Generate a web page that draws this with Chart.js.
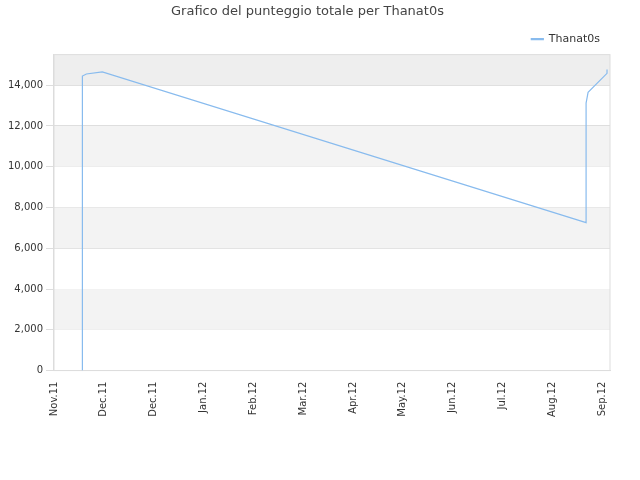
<!DOCTYPE html>
<html>
<head>
<meta charset="utf-8">
<script src="https://cdn.jsdelivr.net/npm/chart.js@4"></script>
<style>
  body { margin: 0; background: #fff; }
</style>
</head>
<body>
<canvas id="chart" width="640" height="480"></canvas>
<script>
const tickLabels = ['Nov.11', 'Dec.11', 'Dec.11', 'Jan.12', 'Feb.12', 'Mar.12', 'Apr.12', 'May.12', 'Jun.12', 'Jul.12', 'Aug.12', 'Sep.12'];
// x in month-tick units (0 = first tick)
const pointX = [0.57, 0.57, 0.65, 0.97, 10.68, 10.68, 10.72, 11.10, 11.10];
const pointY = [0, 14450, 14550, 14650, 7260, 13120, 13650, 14580, 14770];

const bands = {
  id: 'bands',
  beforeDatasetsDraw(chart) {
    const { ctx, chartArea: a, scales: { y } } = chart;
    const gray = [[2000, 4000, '#f3f3f3'], [6000, 8000, '#f3f3f3'], [10000, 12000, '#f3f3f3'], [14000, y.max, '#eeeeee']];
    ctx.save();
    gray.forEach(([lo, hi, c]) => {
      ctx.fillStyle = c;
      const t = y.getPixelForValue(hi), b = y.getPixelForValue(lo);
      ctx.fillRect(a.left, t, a.right - a.left, b - t);
    });
    ctx.strokeStyle = '#dddddd';
    ctx.lineWidth = 1;
    ctx.strokeRect(a.left, a.top, a.right - a.left, a.bottom - a.top);
    ctx.restore();
  }
};

new Chart(document.getElementById('chart'), {
  type: 'line',
  data: {
    datasets: [{
      label: 'Thanat0s',
      data: pointX.map((x, i) => ({ x, y: pointY[i] })),
      borderColor: '#88bbee',
      backgroundColor: '#88bbee',
      borderWidth: 1.2,
      pointRadius: 0,
      tension: 0
    }]
  },
  options: {
    responsive: false,
    animation: false,
    layout: { padding: { right: 30, left: 5, bottom: 60 } },
    plugins: {
      title: { display: true, text: 'Grafico del punteggio totale per Thanat0s', color: '#444', font: { family: 'DejaVu Sans', size: 13, weight: 'normal' }, padding: { top: 4, bottom: 4 } },
      legend: { position: 'top', align: 'end', labels: { boxWidth: 12, boxHeight: 1, color: '#333', font: { family: 'DejaVu Sans', size: 11 } } },
      tooltip: { enabled: false }
    },
    scales: {
      x: {
        type: 'linear', min: 0, max: 11.16,
        afterBuildTicks(s) { s.ticks = tickLabels.map((_, i) => ({ value: i })); },
        ticks: { callback: v => tickLabels[v], maxRotation: 90, minRotation: 90, color: '#333', font: { family: 'DejaVu Sans', size: 10 } },
        grid: { display: false },
        border: { color: '#ddd' }
      },
      y: {
        min: 0, max: 15500,
        afterBuildTicks(s) { s.ticks = [0, 2000, 4000, 6000, 8000, 10000, 12000, 14000].map(v => ({ value: v })); },
        ticks: { color: '#333', font: { family: 'DejaVu Sans', size: 10 } },
        grid: { color: '#dddddd' },
        border: { color: '#ddd' }
      }
    }
  },
  plugins: [bands]
});
</script>
</body>
</html>
